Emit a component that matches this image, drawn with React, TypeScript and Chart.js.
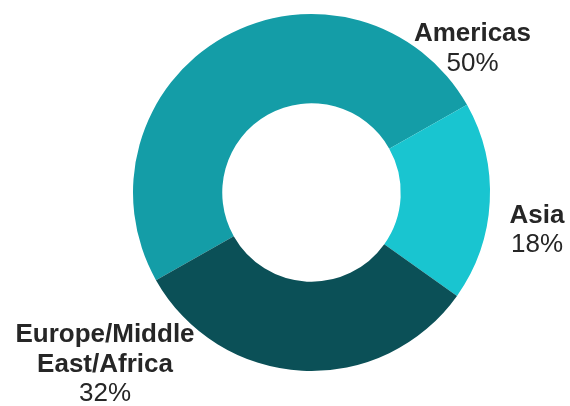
import React, { useEffect, useRef } from "react";
import { Chart, registerables } from "chart.js";

Chart.register(...registerables);

const regions = ["Americas", "Asia", "Europe/Middle East/Africa"];
const labelLines = [["Americas"], ["Asia"], ["Europe/Middle", "East/Africa"]];
const shares = [50, 18, 32];
const colors = ["#149DA7", "#19C5D0", "#0B5057"];

// label anchor offsets relative to doughnut centre (px): x centre, baseline of last line
const labelOffsets = [
  { dx: 161, dy: -122 },
  { dx: 225.5, dy: 59.5 },
  { dx: -206.5, dy: 208.5 },
];

const outsideLabels = {
  id: "outsideLabels",
  afterDraw(chart: any) {
    const ctx = chart.ctx;
    const meta = chart.getDatasetMeta(0);
    const arc0 = meta.data[0];
    if (!arc0) return;
    const cx = arc0.x;
    const cy = arc0.y;
    const lineH = 29.5;
    ctx.save();
    ctx.fillStyle = "#262626";
    ctx.textAlign = "center";
    ctx.textBaseline = "alphabetic";
    labelLines.forEach((lines, i) => {
      const off = labelOffsets[i];
      const x = cx + off.dx;
      const lastY = cy + off.dy;
      const all = [...lines, shares[i] + "%"];
      all.forEach((t, j) => {
        const y = lastY - (all.length - 1 - j) * lineH;
        const isPct = j === all.length - 1;
        ctx.font = (isPct ? "" : "bold ") + "26px 'Liberation Sans', Arial, sans-serif";
        ctx.fillText(t, x, y);
      });
    });
    ctx.restore();
  },
};

export default function App() {
  const ref = useRef<HTMLCanvasElement | null>(null);
  useEffect(() => {
    if (!ref.current) return;
    const chart = new Chart(ref.current, {
      type: "doughnut",
      data: {
        labels: regions,
        datasets: [
          {
            data: shares,
            backgroundColor: colors,
            borderWidth: 0,
            hoverOffset: 0,
          },
        ],
      },
      options: {
        responsive: true,
        maintainAspectRatio: false,
        animation: false,
        rotation: 240.6,
        cutout: "50%",
        layout: { padding: { top: 14, bottom: 35, left: 133, right: 80 } },
        plugins: {
          legend: { display: false },
          tooltip: { enabled: false },
        },
      },
      plugins: [outsideLabels],
    });
    return () => chart.destroy();
  }, []);
  return (
    <div style={{ position: "absolute", left: 0, top: 0, width: 570, height: 406 }}>
      <canvas ref={ref} />
    </div>
  );
}
